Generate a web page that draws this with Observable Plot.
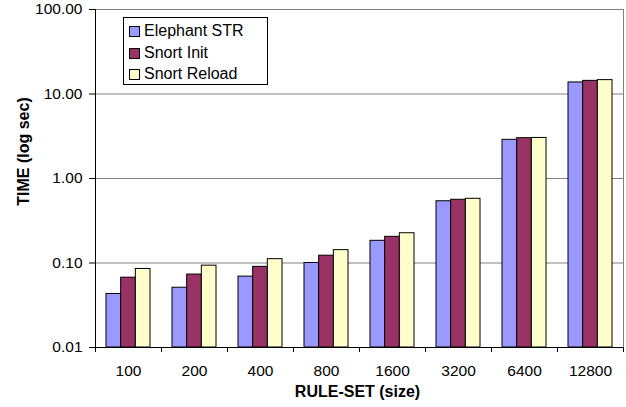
<!DOCTYPE html>
<html>
<head>
<meta charset="utf-8">
<script src="https://cdn.jsdelivr.net/npm/d3@7"></script>
<script src="https://cdn.jsdelivr.net/npm/@observablehq/plot@0.6"></script>
<style>
  html, body { margin: 0; padding: 0; background: #fff; }
  #wrap { position: relative; width: 626px; height: 407px; font-family: "Liberation Sans", Arial, sans-serif; }
  #legend { position: absolute; left: 123px; top: 17px; width: 143px; height: 66px; border: 1px solid #000; background: #fff; box-sizing: content-box; }
  .item { position: absolute; left: 5px; height: 20px; font-size: 16px; line-height: 20px; color: #000; white-space: nowrap; }
  .sw { position: absolute; left: 0; top: 5px; width: 9px; height: 9px; border: 1px solid #000; }
  .lbl { position: absolute; left: 15px; top: 0; }
</style>
</head>
<body>
<div id="wrap"></div>
<script>
const groups = ["100", "200", "400", "800", "1600", "3200", "6400", "12800"];
const series = ["Elephant STR", "Snort Init", "Snort Reload"];
const elephantSTR = [0.043, 0.051, 0.069, 0.100, 0.183, 0.538, 2.87, 13.7];
const snortInit   = [0.067, 0.073, 0.090, 0.122, 0.204, 0.560, 3.00, 14.3];
const snortReload = [0.085, 0.093, 0.111, 0.142, 0.225, 0.575, 3.02, 14.6];
const yTicks = [0.01, 0.1, 1, 10, 100];
const colors = ["#9999FF", "#993366", "#FFFFCC"];

const seriesValues = [elephantSTR, snortInit, snortReload];
const rows = [];
series.forEach((s, i) => groups.forEach((g, j) => rows.push({group: g, series: s, value: seriesValues[i][j]})));

const font = "'Liberation Sans', Arial, sans-serif";
const step = 66, pad = 11, bw = (step - 2 * pad) / 3;

const barMarks = series.map((s, i) =>
  Plot.barY(rows.filter(d => d.series === s), {
    x: "group", y1: () => yTicks[0], y2: "value", fill: "series",
    stroke: "#000", strokeWidth: 1,
    insetLeft: pad + bw * i, insetRight: step - pad - bw * (i + 1)
  })
);

const chart = Plot.plot({
  width: 626, height: 407,
  marginLeft: 95, marginRight: 3, marginTop: 9, marginBottom: 60,
  style: {fontFamily: font, background: "#fff", color: "#000"},
  x: {domain: groups, padding: 0, axis: null},
  y: {type: "log", domain: [0.01, 100], axis: null},
  color: {domain: series, range: colors},
  marks: [
    Plot.ruleY(yTicks.slice(1), {stroke: "#808080", strokeWidth: 1}),
    Plot.frame({anchor: "right", stroke: "#808080"}),
    ...barMarks,
    Plot.frame({anchor: "left", stroke: "#000"}),
    Plot.frame({anchor: "bottom", stroke: "#000"}),
    Plot.axisY(yTicks, {tickSize: 6, tickPadding: 7, tickFormat: d => d.toFixed(2), fontSize: 15.5, label: null}),
    Plot.axisX({tickSize: 0, tickPadding: 17, fontSize: 15.5, label: null}),
    Plot.axisX({tickSize: 5, tickFormat: () => "", dx: -step / 2, label: null}),
    Plot.axisX([groups[groups.length - 1]], {tickSize: 5, tickFormat: () => "", dx: step / 2, label: null}),
    Plot.text(["TIME (log sec)"], {frameAnchor: "top-left", textAnchor: "middle", lineAnchor: "middle", rotate: -90, dx: -71.5, dy: 142, fontWeight: "bold", fontSize: 16}),
    Plot.text(["RULE-SET (size)"], {frameAnchor: "bottom", textAnchor: "middle", lineAnchor: "middle", dx: -2, dy: 44, fontWeight: "bold", fontSize: 16})
  ]
});

const wrap = document.getElementById("wrap");
wrap.appendChild(chart);

const legend = document.createElement("div");
legend.id = "legend";
series.forEach((s, i) => {
  const it = document.createElement("div");
  it.className = "item";
  it.style.top = (3 + i * 21.7) + "px";
  const sw = document.createElement("span");
  sw.className = "sw";
  sw.style.background = colors[i];
  const lb = document.createElement("span");
  lb.className = "lbl";
  lb.textContent = s;
  it.appendChild(sw); it.appendChild(lb);
  legend.appendChild(it);
});
wrap.appendChild(legend);
</script>
</body>
</html>
